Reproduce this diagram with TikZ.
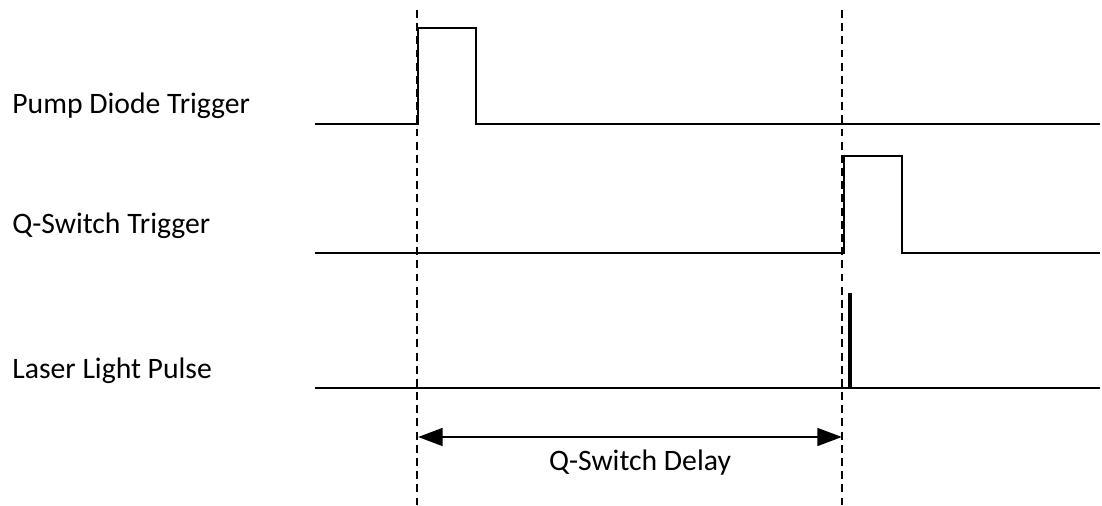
\documentclass[tikz,border=0pt]{standalone}
\usepackage{fontspec}
\setmainfont{Carlito}
\usetikzlibrary{arrows.meta}

\begin{document}
\begin{tikzpicture}[x=0.02cm,y=-0.02cm,
    signal/.style={line width=0.9pt},
    marker/.style={line width=0.7pt,dash pattern=on 4.5pt off 3pt},
    lbl/.style={anchor=base west,inner sep=0pt,font=\fontsize{16.9}{20}\selectfont}]
  \useasboundingbox (0,0) rectangle (1102,506);
  % labels
  \node[lbl] (pump) at (12,114) {Pump Diode Trigger};
  \node[lbl] (qsw) at (12,234) {Q-Switch Trigger};
  \node[lbl] (laser) at (12,378) {Laser Light Pulse};
  % time markers
  \coordinate (mA1) at (417,10); \coordinate (mA2) at (417,506);
  \coordinate (mB1) at (842,10); \coordinate (mB2) at (842,506);
  \draw[marker] (mA1) -- (mA2);
  \draw[marker] (mB1) -- (mB2);
  % signals
  \draw[signal] (315,124) -- (418,124) -- (418,28) -- (476,28) -- (476,124) -- (1100,124);
  \draw[signal] (315,253) -- (844,253) -- (844,156) -- (902,156) -- (902,253) -- (1100,253);
  \draw[signal] (315,388) -- (1100,388);
  \draw[line width=2.4pt] (850,388) -- (850,293);
  % delay
  \coordinate (dA) at (418,437); \coordinate (dB) at (842,437);
  \draw[line width=1.6pt,{Triangle[length=14pt,width=10pt]}-{Triangle[length=14pt,width=10pt]}] (dA) -- (dB);
  \node[lbl,anchor=base] (delay) at (640,470) {Q-Switch Delay};
\end{tikzpicture}
\end{document}
